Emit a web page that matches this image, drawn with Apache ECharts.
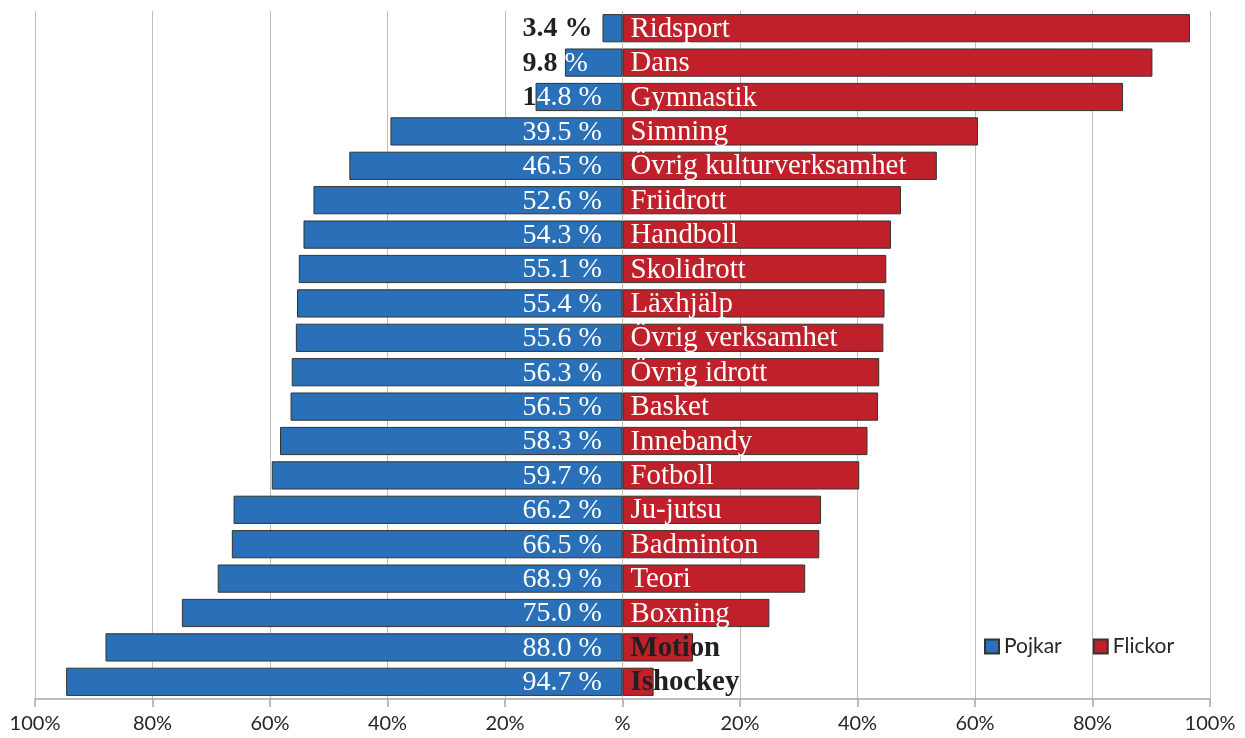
<!DOCTYPE html>
<html><head><meta charset="utf-8">
<script src="https://cdn.jsdelivr.net/npm/echarts@6/dist/echarts.min.js"></script>
<style>html,body{margin:0;padding:0;background:#fff}#c{width:1245px;height:738px}</style>
</head><body><div id="c"></div>
<script>
var categories = ['Ridsport','Dans','Gymnastik','Simning','Övrig kulturverksamhet','Friidrott','Handboll','Skolidrott','Läxhjälp','Övrig verksamhet','Övrig idrott','Basket','Innebandy','Fotboll','Ju-jutsu','Badminton','Teori','Boxning','Motion','Ishockey'];
var pojkar = [3.4, 9.8, 14.8, 39.5, 46.5, 52.6, 54.3, 55.1, 55.4, 55.6, 56.3, 56.5, 58.3, 59.7, 66.2, 66.5, 68.9, 75.0, 88.0, 94.7];
var flickor = [96.6, 90.2, 85.2, 60.5, 53.5, 47.4, 45.7, 44.9, 44.6, 44.4, 43.7, 43.5, 41.7, 40.3, 33.8, 33.5, 31.1, 25.0, 12.0, 5.3];
var xTicks = [-100, -80, -60, -40, -20, 0, 20, 40, 60, 80, 100];

var BLUE = '#2a70b8', RED = '#c0202a', DARK = '#231f20';
var SERIF = '"Liberation Serif","Times New Roman",serif';
var FS = 28, FS_CAT = 28.8;
var BAR_RATIO = 0.82;

var chart = echarts.init(document.getElementById('c'));

var labelData = categories.map(function (c, i) { return [-pojkar[i], flickor[i], i]; });

function renderLabels(params, api) {
  var pv = api.value(0), fv = api.value(1), ci = api.value(2);
  var i = params.dataIndex;
  var z = api.coord([0, ci]);
  var pl = api.coord([pv, ci]);
  var bandH = api.size([0, 1])[1];
  var y = z[1] + 1;
  var children = [];
  var ptxt = pojkar[i].toFixed(1) + ' %';
  var tx = z[0] - 100;
  children.push({
    type: 'text',
    style: { text: ptxt, x: tx, y: y, align: 'left', verticalAlign: 'middle', fill: DARK, font: 'bold ' + FS + 'px ' + SERIF },
    clipPath: { type: 'rect', shape: { x: 0, y: y - bandH, width: pl[0], height: bandH * 2 } }
  });
  children.push({
    type: 'text',
    style: { text: ptxt, x: tx, y: y, align: 'left', verticalAlign: 'middle', fill: '#fff', font: FS + 'px ' + SERIF },
    clipPath: { type: 'rect', shape: { x: pl[0], y: y - bandH, width: z[0] - pl[0], height: bandH * 2 } }
  });
  var cat = categories[i];
  var fits = fv > 20;
  children.push({
    type: 'text',
    style: { text: cat, x: z[0] + 8, y: y, align: 'left', verticalAlign: 'middle',
      fill: fits ? '#fff' : DARK, font: (fits ? '' : 'bold ') + FS_CAT + 'px ' + SERIF }
  });
  return { type: 'group', children: children };
}

chart.setOption({
  animation: false,
  grid: { left: 35, right: 35, top: 11, bottom: 39, containLabel: false },
  legend: {
    data: ['Pojkar', 'Flickor'],
    left: 979, top: 631,
    icon: 'rect', itemWidth: 14, itemHeight: 14, itemGap: 31,
    textStyle: { fontFamily: 'Lato', fontSize: 21, color: '#262626', padding: [0, 0, 0, 0] }
  },
  xAxis: {
    type: 'value', min: -100, max: 100, interval: 20,
    axisLine: { show: true, lineStyle: { color: '#a6a6a6', width: 1.5 } },
    axisTick: { show: true, length: 8, lineStyle: { color: '#a6a6a6', width: 1.5 } },
    splitLine: { show: true, lineStyle: { color: '#bfbfbf', width: 1 } },
    axisLabel: {
      margin: 15, fontFamily: 'Lato', fontSize: 20, color: '#262626',
      formatter: function (v) { return v === 0 ? '%' : Math.abs(v) + '%'; }
    }
  },
  yAxis: {
    type: 'category', data: categories, inverse: true,
    axisLine: { show: false }, axisTick: { show: false }, axisLabel: { show: false }, splitLine: { show: false }
  },
  series: [
    {
      name: 'Pojkar', type: 'bar', barWidth: (BAR_RATIO * 100) + '%', barGap: '-100%',
      data: pojkar.map(function (v) { return -v; }),
      itemStyle: { color: BLUE, borderColor: '#333', borderWidth: 1 }
    },
    {
      name: 'Flickor', type: 'bar', barWidth: (BAR_RATIO * 100) + '%', barGap: '-100%',
      data: flickor,
      itemStyle: { color: RED, borderColor: '#333', borderWidth: 1 }
    },
    {
      name: 'labels', type: 'custom', z: 10, silent: true,
      renderItem: renderLabels,
      encode: { x: [0, 1], y: 2 },
      data: labelData
    }
  ]
});
</script></body></html>
